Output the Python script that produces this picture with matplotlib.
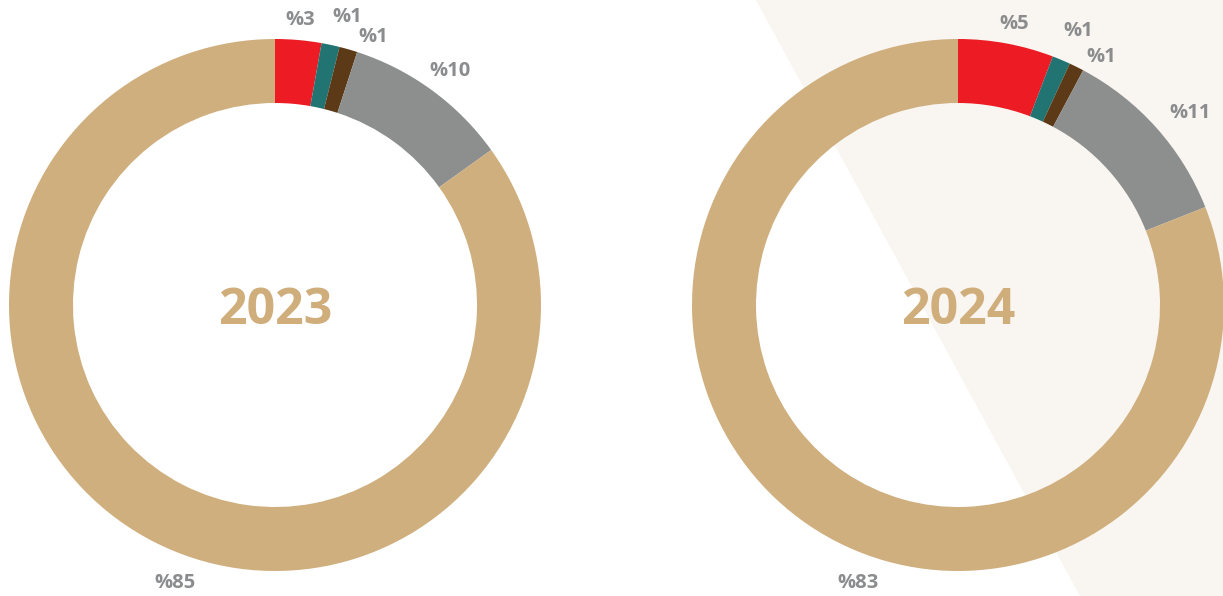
import numpy as np
import matplotlib
matplotlib.use("Agg")
import matplotlib.pyplot as plt
from matplotlib.patches import Polygon

# shares (start at 12 o'clock, clockwise)
years = ["2023", "2024"]
values_2023 = [2.8, 1.1, 1.1, 10.1, 84.9]
values_2024 = [5.8, 1.1, 0.9, 11.2, 81.0]
labels_2023 = ["%3", "%1", "%1", "%10", "%85"]
labels_2024 = ["%5", "%1", "%1", "%11", "%83"]

colors = ["#ed1c24", "#217471", "#5c3a17", "#8d8f8f", "#cfaf7e"]
label_color = "#8a8c8e"
year_color = "#cfae7c"

# label placement tweaks: angular nudge (deg, clockwise) and radius factor
nudge_2023 = [0, 2.1, 4.1, 0.7, -7.4]
rad_2023 = [1.075, 1.117, 1.073, 1.098, 1.11]
nudge_2024 = [0.8, 0.9, 3.5, 2.2, -14.4]
rad_2024 = [1.077, 1.126, 1.076, 1.132, 1.11]

W, H = 1223, 596
fig = plt.figure(figsize=(W / 100, H / 100), dpi=100)
ax = fig.add_axes([0, 0, 1, 1])

# light beige diagonal band behind the right ring
band = Polygon([(756, H), (W, H), (W, 0), (1080, 0)], closed=True,
               facecolor="#f9f5f0", edgecolor="none", zorder=0)
ax.add_patch(band)

R = 266
ring = 64
centers = [(275, 291), (958, 291)]
data = [(values_2023, labels_2023, nudge_2023, rad_2023),
        (values_2024, labels_2024, nudge_2024, rad_2024)]

for (cx, cy), year, (vals, labs, nudges, rads) in zip(centers, years, data):
    ax.pie(vals, colors=colors, startangle=90, counterclock=False,
           center=(cx, cy), radius=R, frame=True,
           wedgeprops=dict(width=ring, edgecolor="none"))

    # labels just outside the ring
    total = sum(vals)
    cum = np.cumsum([0] + vals[:-1])
    for v, c0, lab, dn, rf in zip(vals, cum, labs, nudges, rads):
        mid = (c0 + v / 2) / total * 360 + dn  # clockwise from top
        th = np.deg2rad(90 - mid)
        ax.text(cx + R * rf * np.cos(th), cy + R * rf * np.sin(th), lab,
                ha="center", va="center", fontsize=14.5, fontweight="bold",
                color=label_color, family="Open Sans", zorder=5)

    ax.text(cx, cy - 6, year, ha="center", va="center", fontsize=36,
            fontweight="bold", color=year_color, family="Open Sans",
            zorder=5)

ax.set_xlim(0, W)
ax.set_ylim(0, H)
ax.set_aspect("auto")
ax.axis("off")

fig.savefig("out.png", dpi=100, facecolor="white")
